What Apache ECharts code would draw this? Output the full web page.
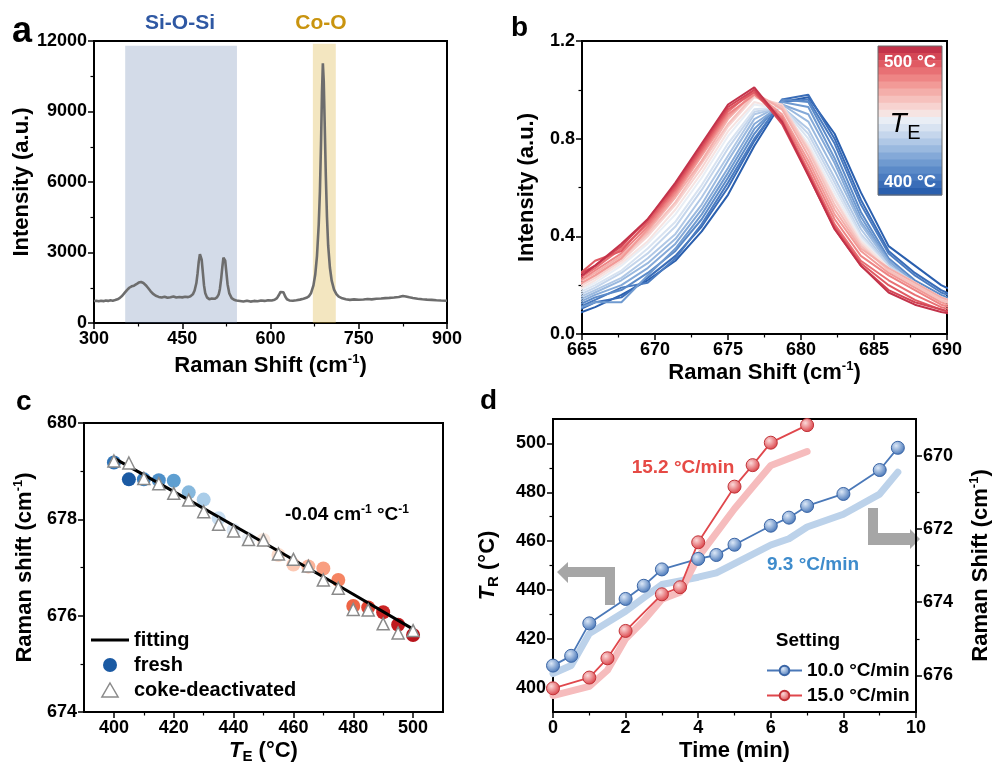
<!DOCTYPE html>
<html>
<head>
<meta charset="utf-8">
<script src="https://cdn.jsdelivr.net/npm/echarts@6/dist/echarts.min.js"></script>
<style>
html,body{margin:0;padding:0;background:#fff;}
#main{width:993px;height:766px;}
</style>
</head>
<body>
<div id="main"></div>
<script>
// ---- panel a : Raman spectrum ----
var ramanSpectrum = [
  [300,935],[304,950],[308,925],[312,945],[316,930],[320,955],[324,940],[328,965],[332,950],[336,975],
  [340,1010],[344,1070],[348,1160],[352,1280],[356,1400],[360,1500],[364,1560],[368,1590],[372,1650],[376,1720],
  [380,1745],[384,1700],[388,1610],[392,1490],[396,1360],[400,1250],[405,1160],[410,1110],[415,1085],[420,1120],
  [425,1075],[430,1100],[435,1130],[440,1085],[445,1105],[450,1090],[455,1120],[460,1100],[464,1140],[468,1220],
  [471,1380],[474,1700],[476,2100],[478,2600],[480,2930],[481.5,2960],[483,2700],[485,2150],[487,1600],[489,1280],
  [492,1090],[496,1010],[500,1040],[505,1030],[509,1090],[512,1220],[514,1450],[516,1850],[518,2350],[520,2780],
  [521.5,2850],[523,2650],[525,2150],[527,1650],[530,1260],[534,1060],[538,990],[542,955],[548,935],[554,915],
  [560,950],[566,910],[572,940],[578,925],[584,960],[590,940],[596,970],[602,955],[607,990],[611,1060],
  [614,1180],[617,1320],[619.5,1400],[622,1310],[625,1130],[628,1010],[632,960],[638,950],[644,970],[650,995],
  [656,1030],[661,1070],[665,1130],[669,1280],[673,1600],[676,2050],[679,2850],[682,4200],[684,5600],[686,7800],
  [687.5,9800],[689,11050],[690.5,10300],[692,8600],[694,6300],[696,4500],[698,3300],[701,2350],[704,1800],[708,1420],
  [712,1230],[716,1120],[722,1050],[728,1010],[735,985],[742,1005],[750,990],[758,1000],[765,1020],[772,1005],
  [780,1035],[788,1045],[795,1060],[802,1070],[810,1085],[818,1110],[825,1150],[830,1130],[836,1095],[842,1065],
  [850,1035],[858,1010],[866,995],[874,985],[882,970],[890,960],[900,950]
];
var bandSiOSi = [353, 543];
var bandCoO = [672, 711];

// ---- panel b : peak profiles at each T_E ----
var shiftGrid = [664.1,665.9,667.7,669.5,671.4,673.2,675.0,676.8,678.7,680.5,682.3,684.1,686.0,687.8,689.6,691.4];
var teLevels = [400,405,410,415,420,425,430,435,440,445,450,455,460,465,470,475,480,485,490,495,500];
var peakCurves = [
  [0.07,0.11,0.16,0.22,0.30,0.42,0.57,0.77,0.95,0.97,0.82,0.58,0.36,0.28,0.20,0.15],
  [0.08,0.13,0.15,0.23,0.32,0.44,0.60,0.79,0.96,0.98,0.80,0.55,0.34,0.25,0.18,0.13],
  [0.09,0.14,0.19,0.21,0.31,0.45,0.62,0.80,0.95,0.96,0.78,0.53,0.33,0.24,0.17,0.13],
  [0.10,0.15,0.18,0.25,0.34,0.47,0.64,0.82,0.96,0.95,0.75,0.50,0.31,0.22,0.16,0.12],
  [0.09,0.13,0.13,0.24,0.35,0.49,0.66,0.84,0.95,0.93,0.72,0.48,0.30,0.21,0.15,0.11],
  [0.11,0.16,0.20,0.27,0.37,0.51,0.68,0.86,0.94,0.90,0.70,0.46,0.30,0.21,0.14,0.11],
  [0.12,0.17,0.22,0.29,0.39,0.53,0.71,0.88,0.94,0.87,0.67,0.45,0.29,0.20,0.15,0.11],
  [0.13,0.18,0.23,0.31,0.41,0.56,0.73,0.90,0.93,0.84,0.64,0.43,0.28,0.20,0.14,0.10],
  [0.14,0.19,0.25,0.33,0.44,0.59,0.76,0.91,0.93,0.82,0.62,0.41,0.28,0.21,0.15,0.11],
  [0.15,0.20,0.26,0.35,0.46,0.61,0.78,0.92,0.93,0.80,0.60,0.40,0.27,0.20,0.14,0.10],
  [0.16,0.21,0.28,0.37,0.49,0.64,0.81,0.94,0.92,0.78,0.58,0.39,0.27,0.20,0.14,0.10],
  [0.16,0.22,0.29,0.38,0.51,0.66,0.83,0.95,0.92,0.77,0.56,0.38,0.27,0.21,0.15,0.11],
  [0.17,0.23,0.30,0.40,0.53,0.68,0.85,0.97,0.94,0.76,0.55,0.37,0.26,0.20,0.14,0.10],
  [0.18,0.24,0.31,0.41,0.54,0.70,0.86,0.98,0.93,0.75,0.53,0.36,0.26,0.20,0.14,0.10],
  [0.19,0.25,0.32,0.42,0.56,0.71,0.88,0.99,0.92,0.73,0.51,0.35,0.27,0.21,0.15,0.11],
  [0.18,0.24,0.31,0.43,0.57,0.73,0.89,0.99,0.90,0.71,0.49,0.34,0.25,0.19,0.13,0.09],
  [0.19,0.26,0.33,0.44,0.58,0.74,0.90,0.98,0.89,0.69,0.47,0.32,0.24,0.18,0.12,0.09],
  [0.20,0.27,0.35,0.45,0.59,0.75,0.91,1.00,0.88,0.67,0.45,0.30,0.22,0.16,0.11,0.08],
  [0.21,0.30,0.34,0.46,0.60,0.76,0.92,0.99,0.87,0.66,0.44,0.29,0.20,0.14,0.10,0.07],
  [0.22,0.28,0.36,0.47,0.61,0.77,0.93,1.00,0.86,0.65,0.43,0.28,0.18,0.13,0.10,0.07],
  [0.20,0.28,0.37,0.47,0.62,0.78,0.94,1.01,0.87,0.65,0.43,0.28,0.17,0.12,0.09,0.07]
];
var curveColors = ['#2a5fae','#3a6db8','#4a7bc0','#5b8ac8','#6f9ad0','#84a9d8','#9ab9df','#b0c8e6','#c5d6ec','#d8e3f1',
  '#e9eef5','#f6e4e2','#f7d3d0','#f6c1bd','#f4aeaa','#f29a97','#ee8585','#e87074','#e05a63','#d44655','#c3334a'];

// ---- panel c : shift vs T_E ----
var teC = [400,405,410,415,420,425,430,435,440,445,450,455,460,465,470,475,480,485,490,495,500];
var freshShift = [679.18,678.83,678.83,678.81,678.80,678.56,678.41,678.02,677.78,677.60,677.57,677.26,677.06,677.02,676.98,676.74,676.20,676.17,676.07,675.81,675.60];
var cokeShift = [679.21,679.17,678.85,678.74,678.54,678.40,678.16,677.90,677.76,677.58,677.57,677.28,677.17,677.03,676.74,676.57,676.13,676.12,675.83,675.64,675.69];
var fitTe = [400, 450, 500];
var fitShift = [679.27, 677.52, 675.72];
var freshColors = ['#2f74b8','#1b5aa3','#3b80c0','#4d8fc8','#5e9fd1','#86b8dd','#aacde9','#c9def1','#dde9f5','#edf2f8',
  '#fbebe2','#fcdccc','#fcc9b4','#fbb49a','#f99e80','#f58462','#ee6445','#de4331','#cb2524','#c01a1e','#b8131b'];

// ---- panel d : ramps ----
var timeBlue = [0,0.5,1,2,2.5,3,4,4.5,5,6,6.5,7,8,9,9.5];
var trBlue = [409,413,426.3,436.3,441.7,448.4,452.7,454.3,458.5,466.3,469.6,474.4,479.3,489.1,498.2];
var timeRed = [0,1,1.5,2,3,3.5,4,5,5.5,6,7];
var trRed = [399.7,404.1,412,423.2,438.2,441.1,459.5,482.3,491.1,500.3,507.5];
var timeBlueShift = [0,0.5,1,2,2.5,3,3.5,4,4.5,5,6,6.5,7,8,9,9.5];
var shiftBlue = [675.95,675.73,674.86,674.25,673.88,673.52,673.42,673.32,673.2,672.95,672.44,672.27,671.95,671.6,671.05,670.45];
var timeRedShift = [0,1,1.5,2,2.5,3,3.5,4,5,5.5,6,7];
var shiftRed = [676.55,676.3,675.86,675.0,674.5,673.92,673.73,672.77,671.45,670.86,670.27,669.89];

var FONT = '"Liberation Sans", Arial, Helvetica, sans-serif';

function zip(xs, ys){
  var out = [];
  for (var i = 0; i < xs.length; i++) out.push([xs[i], ys[i]]);
  return out;
}

function richName(size){
  return {
    fontFamily: FONT, fontWeight: 'bold', fontSize: size, color: '#000',
    rich: {
      t: {fontFamily: FONT, fontWeight: 'bold', fontSize: size, color: '#000', lineHeight: size + 4},
      i: {fontFamily: FONT, fontWeight: 'bold', fontStyle: 'italic', fontSize: size, color: '#000', lineHeight: size + 4},
      sup: {fontFamily: FONT, fontWeight: 'bold', fontSize: 13, color: '#000', verticalAlign: 'top', lineHeight: size + 4},
      sub: {fontFamily: FONT, fontWeight: 'bold', fontSize: 15, color: '#000', verticalAlign: 'bottom', lineHeight: size + 4}
    }
  };
}

function valAxis(o){
  var ax = {
    type: 'value', gridIndex: o.grid, min: o.min, max: o.max, interval: o.interval,
    position: o.position, inverse: !!o.inverse,
    axisLine: {show: true, onZero: false, lineStyle: {color: '#000', width: 2}},
    axisTick: {show: true, inside: false, length: 6, lineStyle: {color: '#000', width: 1.5}},
    minorTick: {show: !!o.minor, splitNumber: o.minor || 2, length: 3.5, lineStyle: {color: '#000', width: 1.2}},
    splitLine: {show: false},
    axisLabel: {color: '#000', fontFamily: FONT, fontWeight: 'bold', fontSize: 18, margin: 7,
      formatter: function(v){ return o.digits ? v.toFixed(o.digits) : String(v); }},
    name: o.name || '', nameLocation: 'middle', nameGap: o.gap || 0,
    nameTextStyle: richName(22)
  };
  if (o.labels) {
    ax.axisLabel.customValues = o.labels;
    ax.axisTick.customValues = o.labels;
  }
  return ax;
}

// extra axis that only carries short minor ticks
function minorAxis(o){
  return {
    type: 'value', gridIndex: o.grid, min: o.min, max: o.max, interval: o.interval,
    position: o.position, inverse: !!o.inverse,
    axisLine: {show: false},
    axisLabel: {show: false},
    splitLine: {show: false},
    axisTick: {show: true, inside: false, length: 3.5, customValues: o.ticks, lineStyle: {color: '#000', width: 1.2}}
  };
}

var gridBase = {show: true, borderColor: '#000', borderWidth: 2, backgroundColor: 'transparent'};

var seriesList = [];

// a
seriesList.push({
  type: 'line', xAxisIndex: 0, yAxisIndex: 0, data: ramanSpectrum, showSymbol: false, symbol: 'none',
  lineStyle: {color: '#6d6d6d', width: 2.6}, z: 2
});
seriesList.push({
  type: 'line', xAxisIndex: 0, yAxisIndex: 0, data: [], symbol: 'none', z: 3,
  markArea: {
    silent: true,
    data: [
      [{xAxis: bandSiOSi[0], yAxis: 0, itemStyle: {color: 'rgba(91,123,171,0.27)'}}, {xAxis: bandSiOSi[1], yAxis: 11800}],
      [{xAxis: bandCoO[0], yAxis: 0, itemStyle: {color: 'rgba(218,178,58,0.32)'}}, {xAxis: bandCoO[1], yAxis: 11880}]
    ]
  }
});

// b
for (var k = 0; k < peakCurves.length; k++) {
  seriesList.push({
    type: 'line', name: teLevels[k] + ' °C', xAxisIndex: 1, yAxisIndex: 1,
    data: zip(shiftGrid, peakCurves[k]), symbol: 'none', clip: true,
    lineStyle: {color: curveColors[k], width: 2}, z: 2
  });
}

// c
seriesList.push({
  type: 'scatter', name: 'fresh', xAxisIndex: 2, yAxisIndex: 2, symbol: 'circle', symbolSize: 14,
  itemStyle: {color: '#1b5aa3', opacity: 1},
  data: teC.map(function(t, i){ return {value: [t, freshShift[i]], itemStyle: {color: freshColors[i], opacity: 1}}; }),
  z: 2
});
seriesList.push({
  type: 'line', name: 'fitting', xAxisIndex: 2, yAxisIndex: 2, data: zip(fitTe, fitShift),
  symbol: 'none', smooth: true, lineStyle: {color: '#000', width: 3}, itemStyle: {color: '#000'}, z: 3
});
seriesList.push({
  type: 'scatter', name: 'coke-deactivated', xAxisIndex: 2, yAxisIndex: 2, symbol: 'triangle', symbolSize: 12,
  itemStyle: {color: '#fff', borderColor: '#8a8a8a', borderWidth: 1.5, opacity: 1},
  data: zip(teC, cokeShift), z: 4
});

// d
seriesList.push({
  type: 'line', xAxisIndex: 4, yAxisIndex: 5, data: zip(timeBlueShift, shiftBlue), symbol: 'none',
  lineStyle: {color: '#bcd2ea', width: 7, cap: 'round', join: 'round'}, z: 1
});
seriesList.push({
  type: 'line', xAxisIndex: 4, yAxisIndex: 5, data: zip(timeRedShift, shiftRed), symbol: 'none',
  lineStyle: {color: '#f6bcbd', width: 7, cap: 'round', join: 'round'}, z: 1
});
seriesList.push({
  type: 'line', name: '10.0 °C/min', xAxisIndex: 4, yAxisIndex: 3, data: zip(timeBlue, trBlue),
  symbol: 'circle', symbolSize: 13, showSymbol: true,
  lineStyle: {color: '#4a78b8', width: 1.8},
  itemStyle: {
    color: new echarts.graphic.RadialGradient(0.38, 0.35, 0.7, [{offset: 0, color: '#dce8f7'}, {offset: 1, color: '#3f70b5'}]),
    borderColor: '#3a65a5', borderWidth: 1
  },
  z: 3
});
seriesList.push({
  type: 'line', name: '15.0 °C/min', xAxisIndex: 4, yAxisIndex: 3, data: zip(timeRed, trRed),
  symbol: 'circle', symbolSize: 13, showSymbol: true,
  lineStyle: {color: '#e0474c', width: 1.8},
  itemStyle: {
    color: new echarts.graphic.RadialGradient(0.38, 0.35, 0.7, [{offset: 0, color: '#fbd9d9'}, {offset: 1, color: '#d93a40'}]),
    borderColor: '#c23338', borderWidth: 1
  },
  z: 3
});

// colour bar of panel b (graphic decoration)
var barTop = 46, barH = 149, barLeft = 878, barW = 64;
var graphics = [];
var stripeH = barH / curveColors.length;
for (var s = 0; s < curveColors.length; s++) {
  graphics.push({
    type: 'rect', z: 100,
    shape: {x: barLeft, y: barTop + s * stripeH, width: barW, height: stripeH + 0.6},
    style: {fill: curveColors[curveColors.length - 1 - s]}
  });
}
graphics.push({type: 'rect', z: 101, shape: {x: barLeft, y: barTop, width: barW, height: barH}, style: {fill: 'none', stroke: '#6a6a6a', lineWidth: 1}});
graphics.push({type: 'text', z: 102, style: {x: barLeft + barW / 2, y: 62, text: '500 °C', fill: '#fff', font: 'bold 17px ' + FONT, textAlign: 'center', textVerticalAlign: 'middle'}});
graphics.push({type: 'text', z: 102, style: {x: barLeft + barW / 2, y: 182, text: '400 °C', fill: '#fff', font: 'bold 17px ' + FONT, textAlign: 'center', textVerticalAlign: 'middle'}});
graphics.push({type: 'text', z: 102, style: {x: 898, y: 124, text: 'T', fill: '#000', font: 'italic 28px ' + FONT, textAlign: 'center', textVerticalAlign: 'middle'}});
graphics.push({type: 'text', z: 102, style: {x: 914, y: 133, text: 'E', fill: '#000', font: '20px ' + FONT, textAlign: 'center', textVerticalAlign: 'middle'}});

// panel letters
graphics.push({type: 'text', style: {x: 12, y: 50, text: 'a', fill: '#000', font: 'bold 36px ' + FONT, textVerticalAlign: 'bottom'}});
graphics.push({type: 'text', style: {x: 511, y: 42, text: 'b', fill: '#000', font: 'bold 28px ' + FONT, textVerticalAlign: 'bottom'}});
graphics.push({type: 'text', style: {x: 16, y: 416, text: 'c', fill: '#000', font: 'bold 28px ' + FONT, textVerticalAlign: 'bottom'}});
graphics.push({type: 'text', style: {x: 480, y: 415, text: 'd', fill: '#000', font: 'bold 28px ' + FONT, textVerticalAlign: 'bottom'}});

// panel a band labels
graphics.push({type: 'text', style: {x: 180, y: 23, text: 'Si-O-Si', fill: '#2f58a3', font: 'bold 21px ' + FONT, textAlign: 'center', textVerticalAlign: 'middle'}});
graphics.push({type: 'text', style: {x: 321, y: 23, text: 'Co-O', fill: '#c9940f', font: 'bold 21px ' + FONT, textAlign: 'center', textVerticalAlign: 'middle'}});

// panel c slope annotation
graphics.push({type: 'text', style: {
  x: 347, y: 515, text: '{t|-0.04 cm}{s|-1}{t| °C}{s|-1}', textAlign: 'center', textVerticalAlign: 'middle',
  rich: {
    t: {fontFamily: FONT, fontWeight: 'bold', fontSize: 19, fill: '#000', lineHeight: 22},
    s: {fontFamily: FONT, fontWeight: 'bold', fontSize: 12, fill: '#000', verticalAlign: 'top', lineHeight: 22}
  }
}});

// panel d annotations
graphics.push({type: 'text', style: {x: 683, y: 468, text: '15.2 °C/min', fill: '#e64a45', font: 'bold 19px ' + FONT, textAlign: 'center', textVerticalAlign: 'middle'}});
graphics.push({type: 'text', style: {x: 813, y: 565, text: '9.3 °C/min', fill: '#3f8ccc', font: 'bold 19px ' + FONT, textAlign: 'center', textVerticalAlign: 'middle'}});
graphics.push({type: 'text', style: {x: 808, y: 641, text: 'Setting', fill: '#000', font: 'bold 19px ' + FONT, textAlign: 'center', textVerticalAlign: 'middle'}});
// grey arrows pointing to the axes
graphics.push({type: 'polygon', shape: {points: [[557,572],[568,562],[568,567],[615,567],[615,605],[605,605],[605,577],[568,577],[568,583]]}, style: {fill: '#a6a6a6'}});
graphics.push({type: 'polygon', shape: {points: [[868,508],[878,508],[878,533],[910,533],[910,529],[920,539],[910,549],[910,545],[868,545]]}, style: {fill: '#a6a6a6'}});

var option = {
  animation: false,
  backgroundColor: '#fff',
  textStyle: {fontFamily: FONT},
  grid: [
    Object.assign({left: 94, top: 41, width: 353, height: 282}, gridBase),
    Object.assign({left: 582, top: 41, width: 365, height: 293}, gridBase),
    Object.assign({left: 84, top: 423, width: 359, height: 289}, gridBase),
    Object.assign({left: 553, top: 419, width: 367, height: 293}, gridBase)
  ],
  xAxis: [
    valAxis({grid: 0, min: 300, max: 900, interval: 150, minor: 2, position: 'bottom', gap: 30,
      name: '{t|Raman Shift (cm}{sup|-1}{t|)}'}),
    valAxis({grid: 1, min: 665, max: 690, interval: 5, minor: 2, position: 'bottom', gap: 22,
      name: '{t|Raman Shift (cm}{sup|-1}{t|)}'}),
    valAxis({grid: 2, min: 390, max: 510, interval: 10, position: 'bottom', gap: 26,
      labels: [400, 420, 440, 460, 480, 500], name: '{i|T}{sub|E}{t| (°C)}'}),
    minorAxis({grid: 2, min: 390, max: 510, interval: 10, position: 'bottom', ticks: [410, 430, 450, 470, 490]}),
    valAxis({grid: 3, min: 0, max: 10, interval: 2, minor: 2, position: 'bottom', gap: 26,
      name: '{t|Time (min)}'})
  ],
  yAxis: [
    valAxis({grid: 0, min: 0, max: 12000, interval: 3000, minor: 2, position: 'left', gap: 54,
      name: '{t|Intensity (a.u.)}'}),
    valAxis({grid: 1, min: 0, max: 1.2, interval: 0.4, minor: 2, position: 'left', gap: 42, digits: 1,
      name: '{t|Intensity (a.u.)}'}),
    valAxis({grid: 2, min: 674, max: 680, interval: 2, minor: 2, position: 'left', gap: 46,
      name: '{t|Raman shift (cm}{sup|-1}{t|)}'}),
    valAxis({grid: 3, min: 390, max: 510, interval: 10, position: 'left', gap: 52,
      labels: [400, 420, 440, 460, 480, 500], name: '{i|T}{sub|R}{t| (°C)}'}),
    minorAxis({grid: 3, min: 390, max: 510, interval: 10, position: 'left', ticks: [410, 430, 450, 470, 490]}),
    valAxis({grid: 3, min: 669, max: 677, interval: 1, position: 'right', inverse: true, gap: 52,
      labels: [670, 672, 674, 676], name: '{t|Raman Shift (cm}{sup|-1}{t|)}'}),
    minorAxis({grid: 3, min: 669, max: 677, interval: 1, position: 'right', inverse: true, ticks: [671, 673, 675]})
  ],
  legend: [
    {
      orient: 'vertical', left: 91, top: 630, padding: 0, itemGap: 5, itemWidth: 38, itemHeight: 14,
      data: [
        {name: 'fitting', icon: 'path://M0,0 L40,0 L40,3.2 L0,3.2 Z', itemStyle: {color: '#000'}},
        {name: 'fresh', icon: 'circle', itemStyle: {color: '#1b5aa3', opacity: 1}},
        {name: 'coke-deactivated', icon: 'path://M6,0 L12,10.4 L0,10.4 Z', itemStyle: {color: '#fff', borderColor: '#8a8a8a', borderWidth: 1.5}}
      ],
      textStyle: {fontFamily: FONT, fontWeight: 'bold', fontSize: 20, color: '#000'}
    },
    {
      orient: 'vertical', left: 766, top: 661, padding: 0, itemGap: 6, itemWidth: 35, itemHeight: 12,
      data: ['10.0 °C/min', '15.0 °C/min'],
      textStyle: {fontFamily: FONT, fontWeight: 'bold', fontSize: 19, color: '#000'}
    }
  ],
  series: seriesList,
  graphic: graphics
};

var chart = echarts.init(document.getElementById('main'), null, {renderer: 'canvas'});
chart.setOption(option);
</script>
</body>
</html>
